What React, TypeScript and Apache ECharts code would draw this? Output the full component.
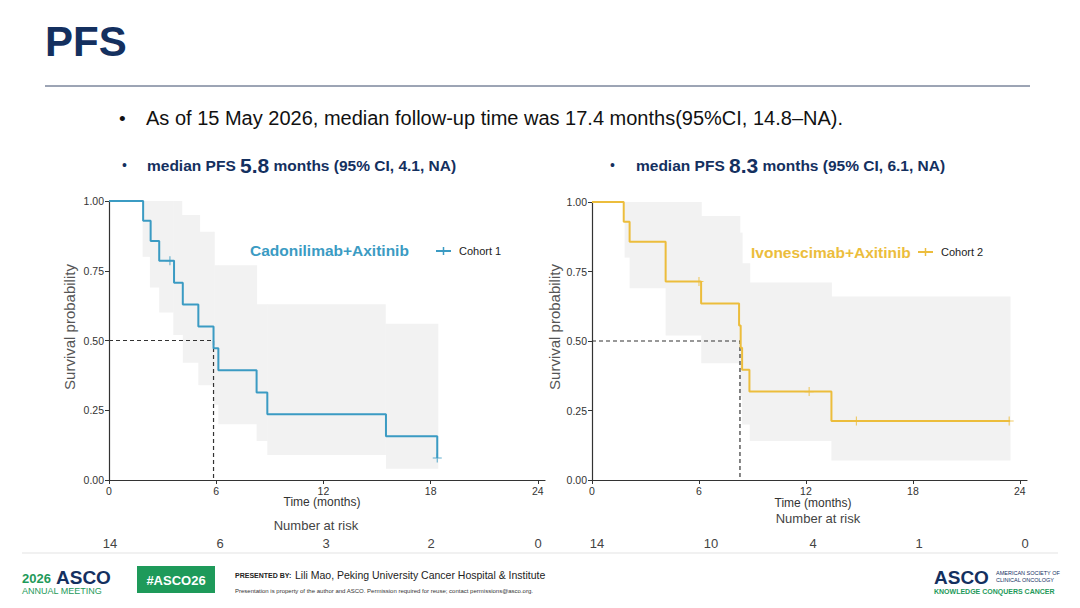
import React, { useEffect, useRef } from "react";
import * as echarts from "echarts";

// Cohort 1 (Cadonilimab+Axitinib) KM step points [time, survival]
const km1 = [[0, 1], [1.91, 0.929], [2.33, 0.857], [2.81, 0.786], [3.64, 0.707], [4.13, 0.629], [5.0, 0.55], [5.85, 0.472], [6.12, 0.393], [8.26, 0.314], [8.86, 0.236], [15.5, 0.157], [18.37, 0.079]];
const cens1 = [[3.41, 0.786], [18.37, 0.079]];
const bandT1 = [1.88, 2.29, 2.81, 3.6, 4.07, 4.13, 5.0, 5.07, 5.85, 5.89, 6.12, 8.26, 8.86, 15.46, 15.5, 18.4];
const bandLo1 = [0.8, 0.69, 0.6, 0.52, 0.52, 0.42, 0.34, 0.34, 0.27, 0.27, 0.2, 0.14, 0.09, 0.09, 0.04];
const bandHi1 = [1, 1, 1, 1, 0.95, 0.95, 0.95, 0.89, 0.89, 0.77, 0.77, 0.63, 0.63, 0.56, 0.56];
const median1 = 5.85;
const risk1 = ["14", "6", "3", "2", "0"];

// Cohort 2 (Ivonescimab+Axitinib)
const km2 = [[0, 1], [1.78, 0.929], [2.11, 0.857], [4.13, 0.714], [6.12, 0.635], [8.25, 0.556], [8.34, 0.476], [8.42, 0.397], [8.83, 0.318], [13.43, 0.212], [23.45, 0.212]];
const cens2 = [[6.0, 0.714], [12.18, 0.318], [14.83, 0.212], [23.4, 0.212]];
const bandT2 = [1.83, 2.11, 4.13, 6.13, 8.29, 8.42, 8.85, 13.43, 23.45];
const bandLo2 = [0.8, 0.69, 0.52, 0.42, 0.3, 0.2, 0.14, 0.07];
const bandHi2 = [1, 1, 1, 0.95, 0.89, 0.78, 0.71, 0.66];
const median2 = 8.3;
const risk2 = ["14", "10", "4", "1", "0"];

const BLUE = "#3b9bc3";
const YELLOW = "#ecbd3c";
const NAVY = "#14305f";
const GREEN = "#1e9a5a";
const FONT = "Liberation Sans, Arial, sans-serif";

function bandData(t: number[], lo: number[], hi: number[]) {
  return lo.map((l, i) => [t[i], t[i + 1], l, hi[i]]);
}

export default function App() {
  const ref = useRef<HTMLDivElement>(null);
  useEffect(() => {
    const chart = echarts.init(ref.current!, undefined, { renderer: "svg" });
    const grids = [
      { left: 109, top: 201, width: 436, height: 279 },
      { left: 592, top: 202, width: 435, height: 278 },
    ];
    const xAxis = grids.map((_, i) => ({
      type: "value", gridIndex: i, min: 0, max: 24.4, interval: 6,
      axisLabel: { color: "#333", fontSize: 10.5, fontFamily: FONT, showMaxLabel: false, margin: 5 },
      axisLine: { lineStyle: { color: "#333", width: 1.2 } },
      axisTick: { length: 4, lineStyle: { color: "#333" } },
      splitLine: { show: false },
    }));
    const yAxis = grids.map((_, i) => ({
      type: "value", gridIndex: i, min: 0, max: 1, interval: 0.25,
      axisLabel: { color: "#333", fontSize: 10.5, fontFamily: FONT, formatter: (v: number) => v.toFixed(2), margin: 5 },
      axisLine: { show: true, lineStyle: { color: "#333", width: 1.2 } },
      axisTick: { show: true, length: 4, lineStyle: { color: "#333" } },
      splitLine: { show: false },
    }));
    const bandSeries = (i: number, data: number[][]) => ({
      type: "custom", xAxisIndex: i, yAxisIndex: i, data, z: 1,
      renderItem: (params: any, api: any) => {
        const p0 = api.coord([api.value(0), api.value(3)]);
        const p1 = api.coord([api.value(1), api.value(2)]);
        return { type: "rect", shape: { x: p0[0], y: p0[1], width: p1[0] - p0[0] + 0.5, height: p1[1] - p0[1] }, style: { fill: "#f2f2f2" } };
      },
    });
    const plus = "path://M-0.6,-5H0.6V5H-0.6Z M-5,-0.6H5V0.6H-5Z";
    const kmSeries = (i: number, d: number[][], c: string) => ({
      type: "line", xAxisIndex: i, yAxisIndex: i, data: d, step: "end", symbol: "none", z: 3,
      lineStyle: { color: c, width: 2 },
    });
    const censSeries = (i: number, d: number[][], c: string) => ({
      type: "scatter", xAxisIndex: i, yAxisIndex: i, data: d, symbol: plus, symbolSize: 9, z: 4,
      itemStyle: { color: c },
    });
    const medSeries = (i: number, m: number) => ({
      type: "line", xAxisIndex: i, yAxisIndex: i, data: [[0, 0.5], [m, 0.5], [m, 0]], symbol: "none", z: 2,
      lineStyle: { color: "#333", width: 1.2, type: [4, 3] },
    });
    const txt = (x: number, y: number, text: string, o: any = {}) => ({
      type: "text", x, y, style: { text, fontFamily: FONT, fill: "#333", fontSize: 12, textVerticalAlign: "middle", ...o },
    });
    const riskX1 = [110, 220, 326, 431, 538];
    const riskX2 = [597, 711, 813, 919, 1025];
    const sub = { a: { fontSize: 15.5, fontWeight: "bold", fill: NAVY, fontFamily: FONT }, b: { fontSize: 21, fontWeight: "bold", fill: NAVY, fontFamily: FONT } };
    const graphic: any[] = [
      txt(45, 41, "PFS", { fontSize: 42, fontWeight: "bold", fill: NAVY }),
      { type: "line", shape: { x1: 45, y1: 86, x2: 1030, y2: 86 }, style: { stroke: "#3a4a6a", lineWidth: 1 } },
      txt(119, 118, "•", { fontSize: 19, fill: "#111" }),
      txt(146, 118, "As of 15 May 2026, median follow-up time was 17.4 months(95%CI, 14.8–NA).", { fontSize: 20, fill: "#111" }),
      txt(122, 165, "•", { fontSize: 14, fill: NAVY }),
      txt(147, 165, "{a|median PFS }{b|5.8}{a| months (95% CI, 4.1, NA)}", { rich: sub }),
      txt(610, 165, "•", { fontSize: 14, fill: NAVY }),
      txt(636, 165, "{a|median PFS }{b|8.3}{a| months (95% CI, 6.1, NA)}", { rich: sub }),
      // titles and legends
      txt(250, 250, "Cadonilimab+Axitinib", { fontSize: 15.5, fontWeight: "bold", fill: BLUE }),
      { type: "line", shape: { x1: 436, y1: 251, x2: 451, y2: 251 }, style: { stroke: BLUE, lineWidth: 2 } },
      { type: "line", shape: { x1: 443.5, y1: 247, x2: 443.5, y2: 255 }, style: { stroke: BLUE, lineWidth: 1.5 } },
      txt(459, 251, "Cohort 1", { fontSize: 11, fill: "#222" }),
      txt(751, 252, "Ivonescimab+Axitinib", { fontSize: 15.5, fontWeight: "bold", fill: YELLOW }),
      { type: "line", shape: { x1: 918, y1: 252, x2: 933, y2: 252 }, style: { stroke: YELLOW, lineWidth: 2 } },
      { type: "line", shape: { x1: 925.5, y1: 248, x2: 925.5, y2: 256 }, style: { stroke: YELLOW, lineWidth: 1.5 } },
      txt(941, 252, "Cohort 2", { fontSize: 11, fill: "#222" }),
      // axis names
      { ...txt(69, 327, "Survival probability", { fontSize: 15, fill: "#555", textAlign: "center" }), rotation: Math.PI / 2 },
      { ...txt(554, 327, "Survival probability", { fontSize: 15, fill: "#555", textAlign: "center" }), rotation: Math.PI / 2 },
      txt(322, 502, "Time (months)", { fontSize: 12, textAlign: "center" }),
      txt(813, 503, "Time (months)", { fontSize: 12, textAlign: "center" }),
      txt(316, 525, "Number at risk", { fontSize: 13, fill: "#444", textAlign: "center" }),
      txt(818, 518, "Number at risk", { fontSize: 13, fill: "#444", textAlign: "center" }),
      ...risk1.map((r, i) => txt(riskX1[i], 543, r, { fontSize: 13, fill: "#444", textAlign: "center" })),
      ...risk2.map((r, i) => txt(riskX2[i], 543, r, { fontSize: 13, fill: "#444", textAlign: "center" })),
      // footer
      { type: "line", shape: { x1: 22, y1: 553, x2: 1058, y2: 553 }, style: { stroke: "#e3e3e3", lineWidth: 1 } },
      txt(22, 578, "2026", { fontSize: 13, fontWeight: "bold", fill: GREEN }),
      txt(56, 577, "ASCO", { fontSize: 19, fontWeight: "bold", fill: NAVY }),
      txt(22, 591, "ANNUAL MEETING", { fontSize: 9, fill: GREEN }),
      { type: "rect", shape: { x: 137, y: 566, width: 78, height: 27 }, style: { fill: GREEN } },
      txt(176, 580, "#ASCO26", { fontSize: 13, fontWeight: "bold", fill: "#fff", textAlign: "center" }),
      txt(235, 575, "PRESENTED BY:", { fontSize: 7, fontWeight: "bold", fill: "#222" }),
      txt(295, 575, "Lili Mao, Peking University Cancer Hospital & Institute", { fontSize: 10.5, fill: "#222" }),
      txt(235, 591, "Presentation is property of the author and ASCO. Permission required for reuse; contact permissions@asco.org.", { fontSize: 6, fill: "#333" }),
      txt(934, 577, "ASCO", { fontSize: 19, fontWeight: "bold", fill: NAVY }),
      txt(996, 573, "AMERICAN SOCIETY OF", { fontSize: 5.5, fill: NAVY }),
      txt(996, 580, "CLINICAL ONCOLOGY", { fontSize: 5.5, fill: NAVY }),
      txt(934, 591, "KNOWLEDGE CONQUERS CANCER", { fontSize: 7, fontWeight: "bold", fill: GREEN }),
    ];
    chart.setOption({
      animation: false,
      backgroundColor: "#fff",
      grid: grids,
      xAxis, yAxis,
      series: [
        bandSeries(0, bandData(bandT1, bandLo1, bandHi1)),
        bandSeries(1, bandData(bandT2, bandLo2, bandHi2)),
        medSeries(0, median1), medSeries(1, median2),
        kmSeries(0, km1, BLUE), kmSeries(1, km2, YELLOW),
        censSeries(0, cens1, BLUE), censSeries(1, cens2, YELLOW),
      ],
      graphic,
    } as any);
    return () => chart.dispose();
  }, []);
  return <div ref={ref} style={{ position: "fixed", left: 0, top: 0, width: 1080, height: 608 }} />;
}
